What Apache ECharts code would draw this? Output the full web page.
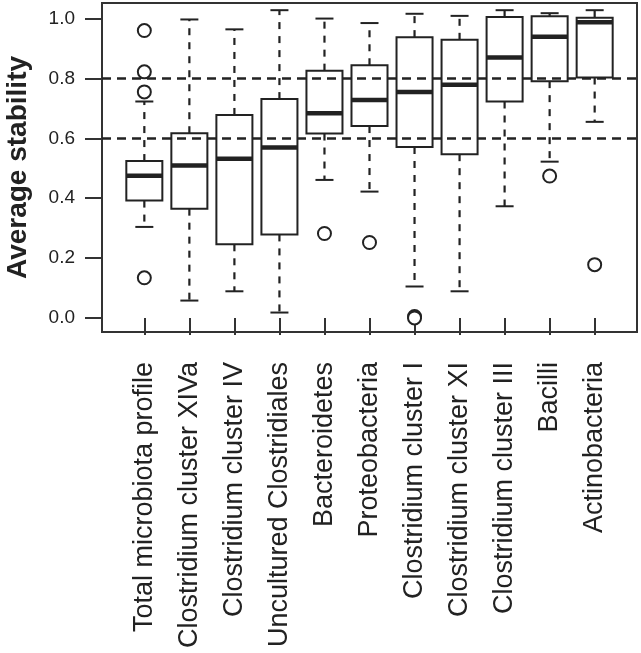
<!DOCTYPE html>
<html>
<head>
<meta charset="utf-8">
<script src="https://cdn.jsdelivr.net/npm/echarts@6/dist/echarts.min.js"></script>
<style>
  html, body { margin: 0; padding: 0; background: #fff; }
  #chart { width: 641px; height: 653px; }
</style>
</head>
<body>
<div id="chart"></div>
<script>
// ---- data ----
var categories = [
  'Total microbiota profile',
  'Clostridium cluster XIVa',
  'Clostridium cluster IV',
  'Uncultured Clostridiales',
  'Bacteroidetes',
  'Proteobacteria',
  'Clostridium cluster I',
  'Clostridium cluster XI',
  'Clostridium cluster III',
  'Bacilli',
  'Actinobacteria'
];
var whiskerLow  = [0.304, 0.058, 0.089, 0.018, 0.461, 0.422, 0.105, 0.089, 0.373, 0.522, 0.655];
var q1          = [0.392, 0.365, 0.246, 0.279, 0.616, 0.641, 0.571, 0.547, 0.723, 0.791, 0.803];
var median      = [0.475, 0.509, 0.532, 0.569, 0.684, 0.728, 0.755, 0.779, 0.870, 0.939, 0.988];
var q3          = [0.524, 0.617, 0.678, 0.731, 0.826, 0.844, 0.938, 0.929, 1.005, 1.008, 1.003];
var whiskerHigh = [0.723, 0.997, 0.964, 1.028, 1.000, 0.985, 1.016, 1.009, 1.028, 1.018, 1.028];
// outliers: [category index (0-based), value]
var outlierCat  = [0, 0, 0, 0, 4, 5, 6, 6, 9, 10];
var outlierVal  = [0.960, 0.822, 0.755, 0.134, 0.282, 0.252, 0.005, 0.000, 0.474, 0.178];
var referenceLines = [0.8, 0.6];
var yTicks = [0, 0.2, 0.4, 0.6, 0.8, 1.0];
var yAxisTitle = 'Average stability';

// ---- build ----
var ink = '#222';
var xPos = categories.map(function (c, i) { return i + 1; });
var boxData = categories.map(function (c, i) {
  return [xPos[i], whiskerLow[i], q1[i], median[i], q3[i], whiskerHigh[i]];
});
var outlierData = outlierCat.map(function (c, i) { return [xPos[c], outlierVal[i]]; });

function renderBox(params, api) {
  var x = api.value(0);
  var lo = api.coord([x, api.value(1)]);
  var b1 = api.coord([x, api.value(2)]);
  var md = api.coord([x, api.value(3)]);
  var b3 = api.coord([x, api.value(4)]);
  var hi = api.coord([x, api.value(5)]);
  var boxW = api.size([0.8, 0])[0];
  var capW = api.size([0.4, 0])[0];
  var cx = lo[0];
  var dashStyle = { stroke: ink, lineWidth: 2.2, lineDash: [7, 7], fill: null };
  var solid = { stroke: ink, lineWidth: 2, fill: null };
  return {
    type: 'group',
    children: [
      { type: 'line', shape: { x1: cx, y1: b3[1], x2: cx, y2: hi[1] }, style: dashStyle },
      { type: 'line', shape: { x1: cx, y1: b1[1], x2: cx, y2: lo[1] }, style: dashStyle },
      { type: 'line', shape: { x1: cx - capW / 2, y1: hi[1], x2: cx + capW / 2, y2: hi[1] }, style: solid },
      { type: 'line', shape: { x1: cx - capW / 2, y1: lo[1], x2: cx + capW / 2, y2: lo[1] }, style: solid },
      { type: 'rect', shape: { x: cx - boxW / 2, y: b3[1], width: boxW, height: b1[1] - b3[1] },
        style: { stroke: ink, lineWidth: 2, fill: null } },
      { type: 'line', shape: { x1: cx - boxW / 2, y1: md[1], x2: cx + boxW / 2, y2: md[1] },
        style: { stroke: ink, lineWidth: 4.5 } }
    ]
  };
}

var chart = echarts.init(document.getElementById('chart'), null, { renderer: 'canvas' });
chart.setOption({
  animation: false,
  backgroundColor: '#fff',
  grid: {
    left: 102, right: 4, top: 3, bottom: 321,
    outerBoundsMode: 'none',
    containLabel: false,
    show: true, borderColor: '#333', borderWidth: 2, backgroundColor: 'transparent'
  },
  xAxis: {
    type: 'value',
    min: 0.06, max: 11.94,
    splitLine: { show: false },
    axisLine: { show: false },
    axisTick: { show: true, customValues: xPos, length: 17, lineStyle: { color: '#333', width: 2 } },
    axisLabel: {
      customValues: xPos,
      rotate: 90,
      margin: 30,
      fontSize: 27,
      fontFamily: 'Liberation Sans, Arial, sans-serif',
      color: ink,
      formatter: function (v) { return categories[Math.round(v) - 1] || ''; }
    }
  },
  yAxis: {
    type: 'value',
    min: -0.047, max: 1.052,
    name: yAxisTitle,
    nameLocation: 'middle',
    nameGap: 70,
    nameRotate: 90,
    nameTextStyle: {
      fontSize: 28, fontWeight: 'bold', color: ink,
      fontFamily: 'Liberation Sans, Arial, sans-serif'
    },
    splitLine: { show: false },
    axisLine: { show: false },
    axisTick: { show: true, customValues: yTicks, length: 17, lineStyle: { color: '#333', width: 2 } },
    axisLabel: {
      customValues: yTicks,
      margin: 27,
      fontSize: 19,
      fontFamily: 'Liberation Sans, Arial, sans-serif',
      color: ink,
      formatter: function (v) { return v.toFixed(1); }
    }
  },
  series: [
    {
      type: 'custom',
      renderItem: renderBox,
      data: boxData,
      encode: { x: 0, y: [1, 2, 3, 4, 5] },
      z: 2
    },
    {
      type: 'scatter',
      data: outlierData,
      symbol: 'emptyCircle',
      symbolSize: 13,
      itemStyle: { color: ink, borderColor: ink, borderWidth: 2, opacity: 1 },
      z: 3
    },
    {
      type: 'line',
      data: [],
      z: 5,
      markLine: {
        silent: true,
        symbol: ['none', 'none'],
        label: { show: false },
        lineStyle: { color: ink, type: [9, 6], width: 2.6 },
        data: referenceLines.map(function (v) { return { yAxis: v }; })
      }
    }
  ]
});
</script>
</body>
</html>
